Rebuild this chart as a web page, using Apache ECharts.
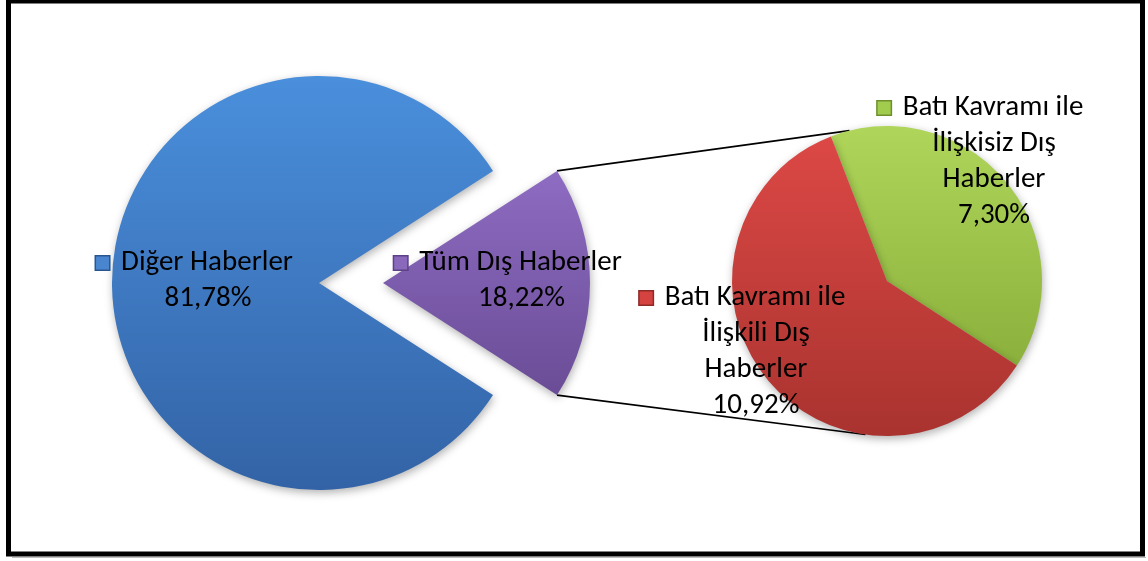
<!DOCTYPE html>
<html>
<head>
<meta charset="utf-8">
<script src="https://cdn.jsdelivr.net/npm/echarts@6/dist/echarts.min.js"></script>
<style>
html,body{margin:0;padding:0;background:#fff;}
#chart{width:1148px;height:561px;}
</style>
</head>
<body>
<div id="chart"></div>
<script>
// ---- data ----
const mainCategories = ['Tüm Dış Haberler', 'Diğer Haberler'];
const mainValues = [18.22, 81.78];
const subCategories = ['Batı Kavramı ile\nİlişkisiz Dış\nHaberler', 'Batı Kavramı ile\nİlişkili Dış\nHaberler'];
const subValues = [7.30, 10.92];

// ---- layout / style ----
const L = { cx: 319, cy: 283, r: 207, explode: 64 };
const Rp = { cx: 887, cy: 281, r: 155, start: 111.2 };
const FONT = 'Carlito, Lato, "Open Sans", sans-serif';
const FS = 29;

const colors = {
  'Diğer Haberler': ['#4a8fdc', '#3363a6', '#4a86d0', '#2a5690'],
  'Tüm Dış Haberler': ['#8e6cc2', '#6a4c96', '#8a68bc', '#5c4184'],
  'Batı Kavramı ile\nİlişkisiz Dış\nHaberler': ['#afd65a', '#8bb03c', '#a2cc4e', '#6f8f2c'],
  'Batı Kavramı ile\nİlişkili Dış\nHaberler': ['#dc4845', '#a9332f', '#d4433f', '#8e2a27']
};
function grad(c) {
  return new echarts.graphic.LinearGradient(0, 0, 0, 1, [
    { offset: 0, color: c[0] }, { offset: 1, color: c[1] }
  ]);
}
function fmt(v) { return v.toFixed(2).replace('.', ',') + '%'; }

const labelPos = {
  'Diğer Haberler': [L.cx - 111, L.cy - 2],
  'Batı Kavramı ile\nİlişkili Dış\nHaberler': [Rp.cx - 131, Rp.cy + 71],
  'Batı Kavramı ile\nİlişkisiz Dış\nHaberler': [Rp.cx + 107, Rp.cy - 119]
};
// the exploded slice keeps its default inside position; shift its text with padding
const labelPad = { 'Tüm Dış Haberler': [0, 0, 4, 64] };

function richFor(name) {
  const c = colors[name];
  return {
    k: { width: 13, height: 13, backgroundColor: c[2], borderColor: c[3], borderWidth: 1.5 },
    g: { width: 12, height: 13 },
    s: { width: 27, height: 13 },
    t: { fontSize: FS, fontFamily: FONT, color: '#000', lineHeight: 36 }
  };
}
function labelText(name, value) {
  const lines = name.split('\n');
  let out = '{k|}{g|}{t|' + lines[0] + '}{s|}';
  for (let i = 1; i < lines.length; i++) out += '\n{t|' + lines[i] + '}';
  out += '\n{t|' + fmt(value) + '}';
  return out;
}

function buildData(cats, vals, selectedName) {
  return cats.map((n, i) => ({
    name: n,
    value: vals[i],
    selected: n === selectedName,
    itemStyle: { color: grad(colors[n]) },
    label: {
      show: true,
      position: 'inside',
      formatter: labelText(n, vals[i]),
      rich: richFor(n),
      fontSize: FS,
      fontFamily: FONT,
      lineHeight: 36,
      align: 'center',
      padding: labelPad[n] || 0
    }
  }));
}

const halfAngle = mainValues[0] / (mainValues[0] + mainValues[1]) * 360 / 2;

function makeLayout(cats) {
  return function (params) {
    const p = labelPos[cats[params.dataIndex]];
    if (!p) return null;
    return { x: p[0], y: p[1], align: 'center', verticalAlign: 'middle' };
  };
}

// connector lines from purple slice corners to the second pie
const rad = Math.PI / 180;
const pTop = [L.cx + L.explode + L.r * Math.cos(halfAngle * rad), L.cy - L.r * Math.sin(halfAngle * rad)];
const pBot = [L.cx + L.explode + L.r * Math.cos(halfAngle * rad), L.cy + L.r * Math.sin(halfAngle * rad)];
const topEndAng = 104, botEndAng = -98;
const qTop = [Rp.cx + Rp.r * Math.cos(topEndAng * rad), Rp.cy - Rp.r * Math.sin(topEndAng * rad)];
const qBot = [Rp.cx + Rp.r * Math.cos(botEndAng * rad), Rp.cy - Rp.r * Math.sin(botEndAng * rad)];

const shadow = { shadowBlur: 8, shadowColor: 'rgba(0,0,0,0.3)', shadowOffsetY: 3, shadowOffsetX: 1 };

const chart = echarts.init(document.getElementById('chart'), null, { renderer: 'canvas' });
chart.setOption({
  animation: false,
  backgroundColor: '#fff',
  graphic: [
    { type: 'rect', z: 0, shape: { x: 8.5, y: 1, width: 1134, height: 553 },
      style: { fill: 'none', stroke: '#000', lineWidth: 5 } },
    { type: 'rect', z: 0, shape: { x: 12, y: 557, width: 1134, height: 1 }, style: { fill: '#bbb' } },
    { type: 'line', z: 1, shape: { x1: pTop[0], y1: pTop[1], x2: qTop[0], y2: qTop[1] },
      style: { stroke: '#000', lineWidth: 1.6 } },
    { type: 'line', z: 1, shape: { x1: pBot[0], y1: pBot[1], x2: qBot[0], y2: qBot[1] },
      style: { stroke: '#000', lineWidth: 1.6 } }
  ],
  series: [
    {
      type: 'pie',
      center: [L.cx, L.cy],
      radius: [0, L.r],
      startAngle: halfAngle,
      clockwise: true,
      selectedMode: 'multiple',
      selectedOffset: L.explode,
      silent: true,
      itemStyle: Object.assign({ borderWidth: 0 }, shadow),
      labelLine: { show: false },
      label: { show: true, position: 'inside' },
      labelLayout: makeLayout(mainCategories),
      emphasis: { disabled: true },
      data: buildData(mainCategories, mainValues, 'Tüm Dış Haberler')
    },
    {
      type: 'pie',
      center: [Rp.cx, Rp.cy],
      radius: [0, Rp.r],
      startAngle: Rp.start,
      clockwise: true,
      silent: true,
      itemStyle: Object.assign({ borderWidth: 0 }, shadow),
      labelLine: { show: false },
      label: { show: true, position: 'inside' },
      labelLayout: makeLayout(subCategories),
      emphasis: { disabled: true },
      data: buildData(subCategories, subValues, null)
    }
  ]
});
</script>
</body>
</html>
